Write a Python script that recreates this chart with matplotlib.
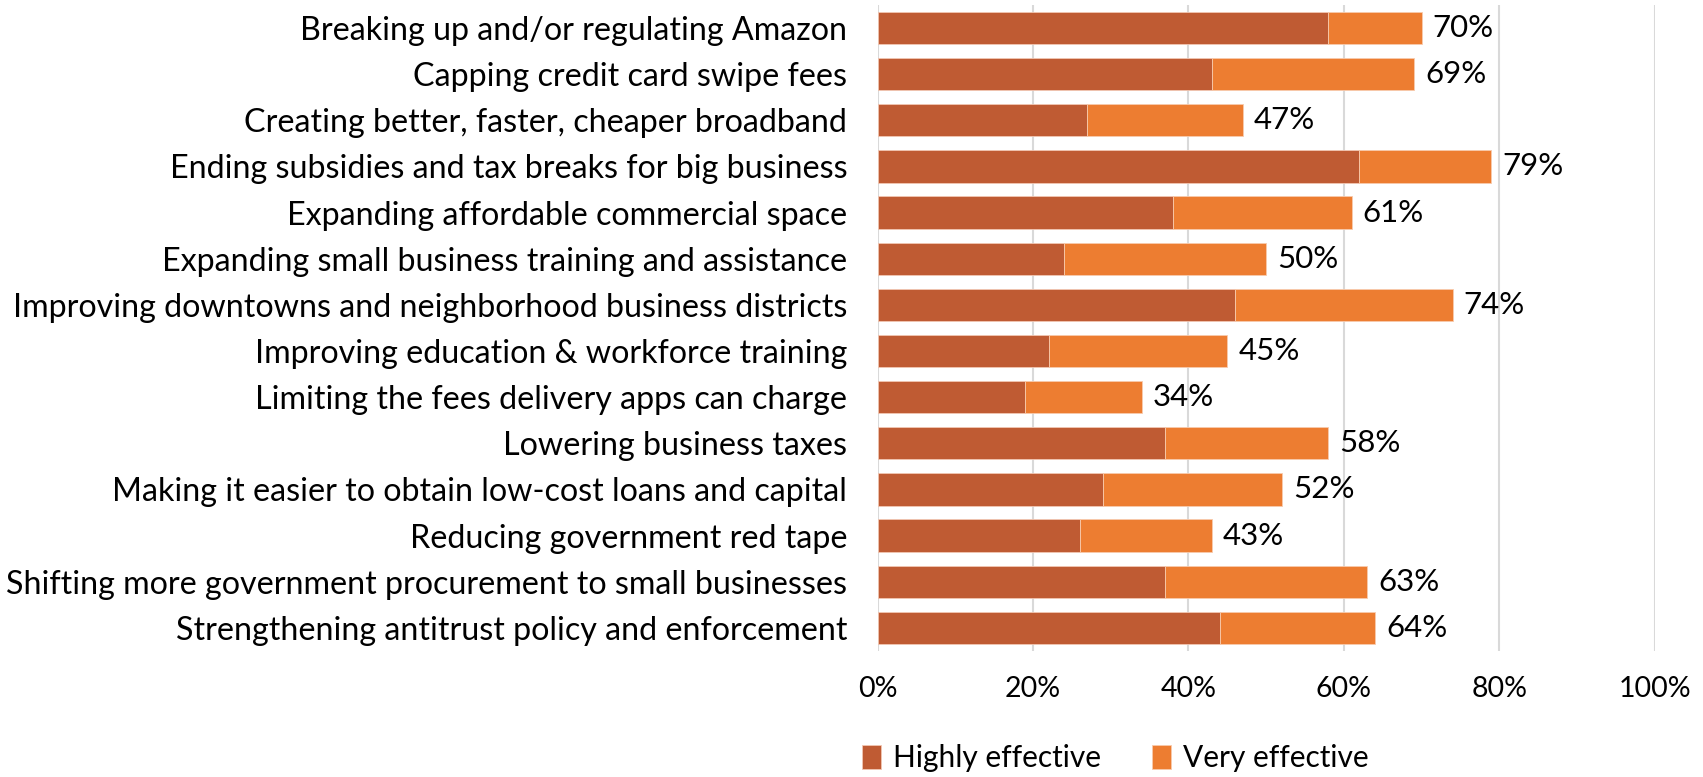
import matplotlib.pyplot as plt
from matplotlib.ticker import PercentFormatter

plt.rcParams['font.family'] = ['Lato', 'DejaVu Sans']

# survey answers, top row first
policies = [
    "Breaking up and/or regulating Amazon",
    "Capping credit card swipe fees",
    "Creating better, faster, cheaper broadband",
    "Ending subsidies and tax breaks for big business",
    "Expanding affordable commercial space",
    "Expanding small business training and assistance",
    "Improving downtowns and neighborhood business districts",
    "Improving education & workforce training",
    "Limiting the fees delivery apps can charge",
    "Lowering business taxes",
    "Making it easier to obtain low-cost loans and capital",
    "Reducing government red tape",
    "Shifting more government procurement to small businesses",
    "Strengthening antitrust policy and enforcement",
]
highly = [58, 43, 27, 62, 38, 24, 46, 22, 19, 37, 29, 26, 37, 44]
very = [12, 26, 20, 17, 23, 26, 28, 23, 15, 21, 23, 17, 26, 20]
totals = [70, 69, 47, 79, 61, 50, 74, 45, 34, 58, 52, 43, 63, 64]

dark = '#BF5B33'
light = '#ED7D31'

fig = plt.figure(figsize=(17.03, 7.77), dpi=100)
ax = fig.add_axes([0.5154, 0.1622, 0.4562, 0.8314])

rows = list(range(len(policies)))
ax.barh(rows, highly, height=0.7, color=dark, edgecolor='#F2C7B3', linewidth=0.6,
        label='Highly effective', zorder=3)
ax.barh(rows, very, left=highly, height=0.7, color=light, edgecolor='#F8CBAD',
        linewidth=0.6, label='Very effective', zorder=3)

for r, t in zip(rows, totals):
    ax.annotate(f"{t}%", (t, r), xytext=(8, 0), textcoords='offset points',
                va='center', ha='left', fontsize=22.5, color='#000000')

ax.set_xlim(0, 100)
ax.set_ylim(13.5, -0.5)
ax.set_xticks([0, 20, 40, 60, 80, 100])
ax.xaxis.set_major_formatter(PercentFormatter(decimals=0))
ax.set_yticks(rows)
ax.set_yticklabels(policies, fontsize=23.2)
ax.tick_params(axis='x', labelsize=20.5, length=0, pad=18)
ax.tick_params(axis='y', length=0, pad=22)
ax.grid(axis='x', color='#D9D9D9', linewidth=1.5, zorder=0)
for s in ax.spines.values():
    s.set_visible(False)

fig.legend(loc='center', bbox_to_anchor=(0.655, 0.024), ncol=2, frameon=False,
           fontsize=21.5, handlelength=0.65, handleheight=0.85, handletextpad=0.4,
           columnspacing=1.7)

fig.savefig('out.png', dpi=100)
